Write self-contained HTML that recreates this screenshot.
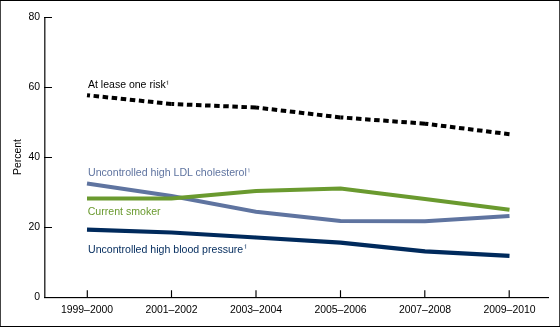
<!DOCTYPE html>
<html><head><meta charset="utf-8">
<style>
html,body{margin:0;padding:0;background:#fff;}
body{width:560px;height:328px;overflow:hidden;}
svg{display:block;will-change:transform;}
text{font-family:"Liberation Sans",sans-serif;font-size:10.45px;}
</style></head>
<body>
<svg width="560" height="328" viewBox="0 0 560 328">
<rect x="0" y="0" width="560" height="328" fill="#fff"/>
<rect x="0" y="0" width="1" height="327" fill="#444444"/><rect x="559" y="0" width="1" height="327" fill="#444444"/><rect x="0" y="0" width="560" height="1" fill="#000"/><rect x="0" y="326" width="560" height="1" fill="#000"/>
<!-- axes -->
<rect x="44" y="17" width="1" height="281" fill="#3a3a3a"/><rect x="45" y="18" width="1" height="279" fill="#969696"/><rect x="44" y="297" width="505" height="1" fill="#000"/><rect x="44" y="298" width="505" height="1" fill="#d6d6d6"/>
<g stroke="#000" stroke-width="1">
<path d="M44 17.5 H52 M44 87.5 H52 M44 157.5 H52 M44 227.5 H52"/>
</g>
<g stroke="#000" stroke-width="1.15">
<path d="M87.3 290.3 V297 M171.5 290.3 V297 M256 290.3 V297 M340.5 290.3 V297 M424.8 290.3 V297 M509.2 290.3 V297"/>
</g>
<g text-anchor="end" fill="#000">
<text x="40" y="20.0">80</text>
<text x="40" y="90.0">60</text>
<text x="40" y="160.0">40</text>
<text x="40" y="230.0">20</text>
<text x="40" y="300.0">0</text>
</g>
<text transform="translate(20.7,157) rotate(-90)" text-anchor="middle" fill="#000">Percent</text>
<g text-anchor="middle" fill="#000">
<text x="87" y="313">1999–2000</text>
<text x="171.5" y="313">2001–2002</text>
<text x="256" y="313">2003–2004</text>
<text x="340.5" y="313">2005–2006</text>
<text x="425" y="313">2007–2008</text>
<text x="509.5" y="313">2009–2010</text>
</g>
<!-- lines -->
<polyline fill="none" stroke="#002a5c" stroke-width="4.2" points="87,229.7 171.5,232.5 256,237.5 340.5,242.6 425,251.4 509.5,255.9"/>
<polyline fill="none" stroke="#5f74a0" stroke-width="4" points="87,183.6 171.5,196 256,211.8 340.5,221 425,221.2 509.5,216"/>
<polyline fill="none" stroke="#6a9a2f" stroke-width="4" points="87,198.6 171.5,198.6 256,191.1 340.5,188.6 425,198.9 509.5,209.8"/>
<g fill="none" stroke="#000" stroke-width="4" stroke-dasharray="5.5 3.6"><path stroke-dashoffset="2.48" d="M87 95.2 L171.5 104.0"/><path stroke-dashoffset="2.81" d="M171.5 104.0 L256 107.5"/><path stroke-dashoffset="2.38" d="M256 107.5 L340.5 117.4"/><path stroke-dashoffset="2.67" d="M340.5 117.4 L425 123.7"/><path stroke-dashoffset="2.19" d="M425 123.7 L509.5 134.2"/></g>
<!-- labels -->
<text x="88" y="88.4" style="font-size:10.53px" fill="#000">At lease one risk</text>
<path d="M166.9 81.5 L167.6 80.8 V84.7" fill="none" stroke="#000" stroke-width="0.75" opacity="0.8"/>
<text x="88" y="175.9" style="font-size:10.62px" fill="#5f74a0">Uncontrolled high LDL cholesterol</text>
<path d="M248.3 169.2 L249.0 168.5 V172.4" fill="none" stroke="#5f74a0" stroke-width="0.75" opacity="0.8"/>
<text x="87.7" y="214.8" style="font-size:10.58px" fill="#6a9a2f">Current smoker</text>
<text x="88" y="252.6" style="font-size:10.59px" fill="#002a5c">Uncontrolled high blood pressure</text>
<path d="M244.9 245.3 L245.6 244.6 V248.7" fill="none" stroke="#002a5c" stroke-width="0.75" opacity="0.8"/>
</svg>
</body></html>
